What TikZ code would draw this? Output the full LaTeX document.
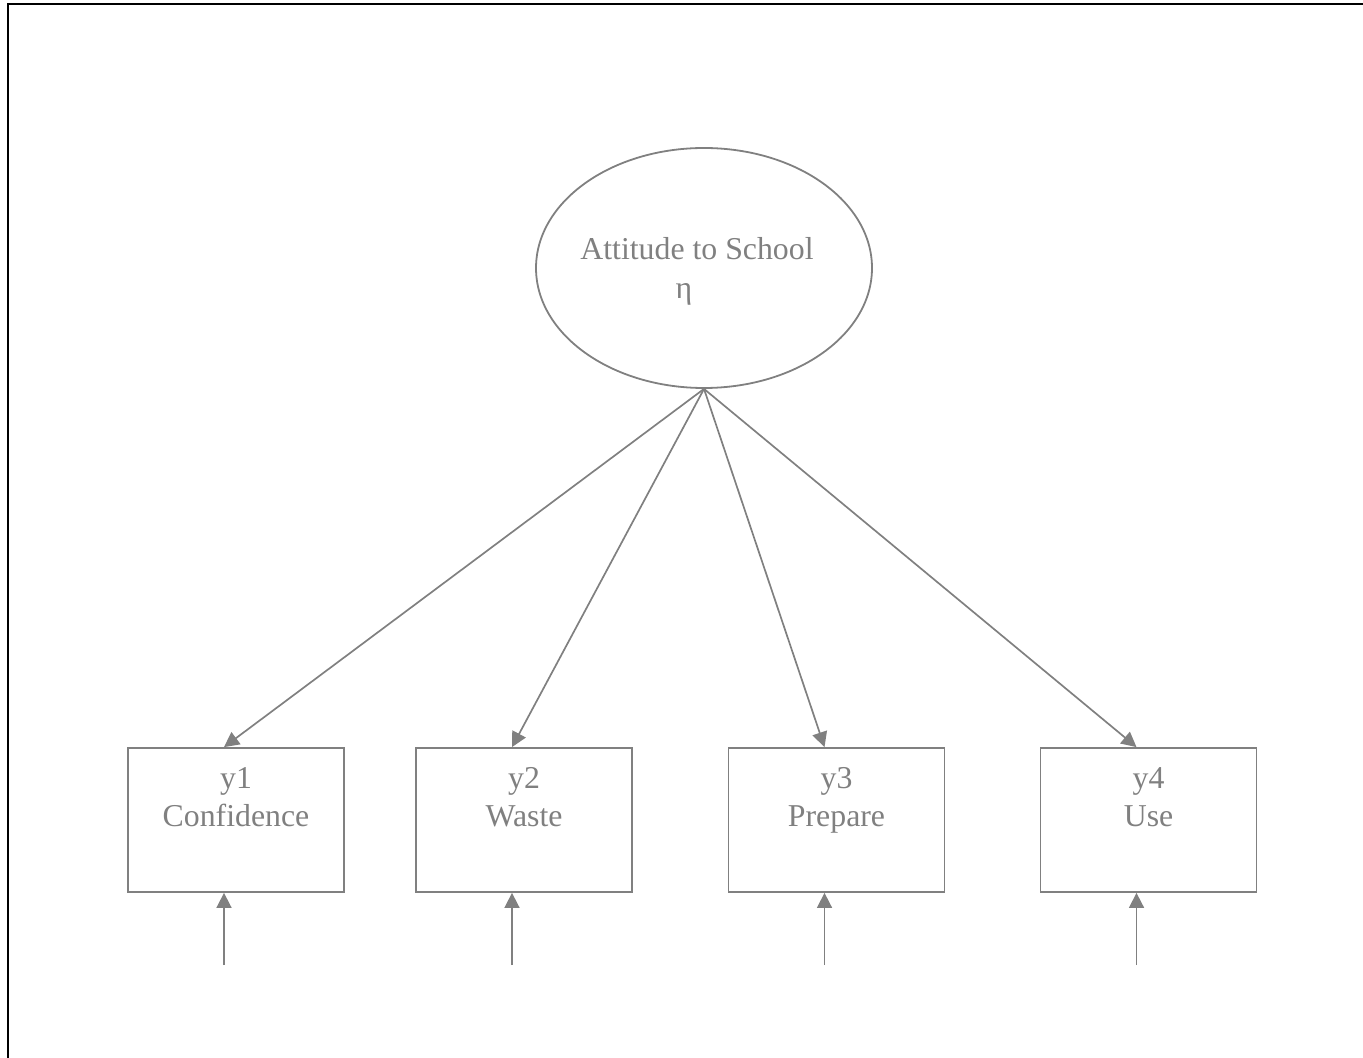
\documentclass[tikz,border=0pt]{standalone}
\usepackage{fontspec}
\setmainfont{Liberation Serif}
\usetikzlibrary{arrows.meta,shapes.geometric}
\definecolor{gcol}{HTML}{808080}
\begin{document}
\begin{tikzpicture}[x=0.5pt,y=-0.5pt,
  txt/.style={text=gcol, font=\fontsize{15.9}{19}\selectfont, inner sep=0pt},
  obs/.style={txt, draw=gcol, line width=0.9pt, rectangle, minimum width=108pt, minimum height=72pt},
  lat/.style={draw=gcol, line width=0.9pt, ellipse, minimum width=168pt, minimum height=120pt, inner sep=0pt},
  conn/.style={draw=gcol, line width=0.85pt, -{Triangle[length=7.5pt,width=7.5pt]}},
]
\useasboundingbox (0,0) rectangle (1363,1058);
% frame
\draw[black, line width=1pt] (7.5,1058) -- (7.5,4.5) -- (1363,4.5);

% latent variable
\node[lat] (e) at (704,268) {};
\node[txt, anchor=base] (etext) at (697,260) {Attitude to School};
\node[txt, anchor=base] (eta) at (684,299) {η};

% observed variables
\newcommand{\boxtext}[2]{\parbox[t][72pt][t]{108pt}{\centering\rule{0pt}{20pt}#1\\#2}}
\node[obs] (b1) at (236,820) {\boxtext{y1}{Confidence}};
\node[obs] (b2) at (524,820) {\boxtext{y2}{Waste}};
\node[obs] (b3) at (836.5,820) {\boxtext{y3}{Prepare}};
\node[obs] (b4) at (1148.5,820) {\boxtext{y4}{Use}};

% loadings
\draw[conn] (e.south) -- ([xshift=-6pt]b1.north);
\draw[conn] (e.south) -- ([xshift=-6pt]b2.north);
\draw[conn] (e.south) -- ([xshift=-6pt]b3.north);
\draw[conn] (e.south) -- ([xshift=-6pt]b4.north);

% error terms
\coordinate (u1) at (224,965);
\coordinate (u2) at (512,965);
\coordinate (u3) at (824.5,965);
\coordinate (u4) at (1136.5,965);
\draw[conn] (u1) -- (u1 |- b1.south);
\draw[conn] (u2) -- (u2 |- b2.south);
\draw[conn] (u3) -- (u3 |- b3.south);
\draw[conn] (u4) -- (u4 |- b4.south);
\end{tikzpicture}
\end{document}
